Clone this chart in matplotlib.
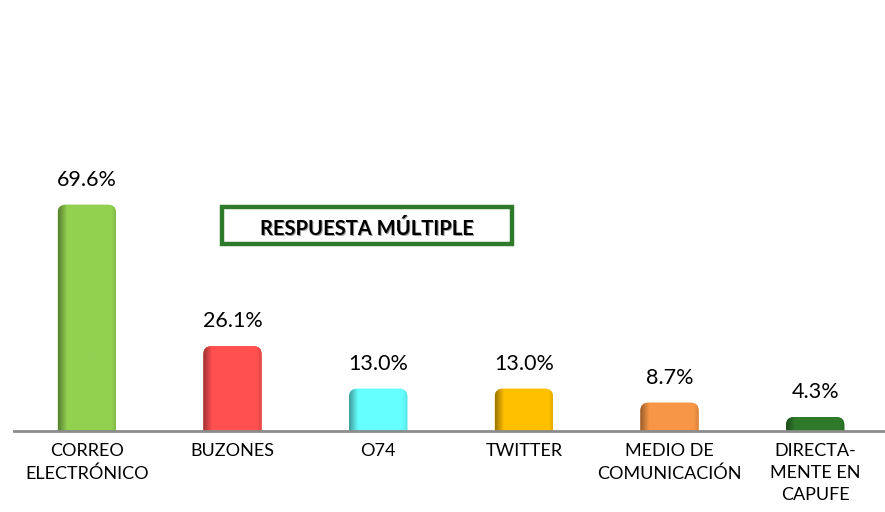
import numpy as np
import matplotlib
matplotlib.use("Agg")
import matplotlib.pyplot as plt
from matplotlib.patches import FancyBboxPatch
from matplotlib.colors import to_rgb

categories = ["CORREO\nELECTRÓNICO", "BUZONES", "O74", "TWITTER",
              "MEDIO DE\nCOMUNICACIÓN", "DIRECTA-\nMENTE EN\nCAPUFE"]
values = [69.6, 26.1, 13.0, 13.0, 8.7, 4.3]
colors = ["#92D050", "#FF5050", "#66FFFF", "#FFC000", "#F79646", "#2E7A2A"]
note = "RESPUESTA MÚLTIPLE"

plt.rcParams["font.family"] = ["Lato", "DejaVu Sans"]

W, H = 885, 512
fig = plt.figure(figsize=(W / 100, H / 100), dpi=100)
ax = fig.add_axes([14 / W, (H - 431) / H, 1 - 14 / W + 3 / W, 431 / H])
ax.set_xlim(-0.5, len(values) - 0.5)
ymax = 132.6
ax.set_ylim(0, ymax)
for s in ax.spines.values():
    s.set_visible(False)
ax.set_yticks([])
ax.set_xticks([])

x = np.arange(len(values))
bars = ax.bar(x, values, width=0.40, color="none", edgecolor="none")

# pixel scale of the data units, used for rounded corners
px_x = ax.get_position().width * W / (len(values))
px_y = ax.get_position().height * H / ymax
r_px = 8
rx = r_px / px_x
aspect = (r_px / px_y) / rx

for b, c in zip(bars, colors):
    x0, w, h = b.get_x(), b.get_width(), b.get_height()
    patch = FancyBboxPatch((x0, -6), w, h + 6,
                           boxstyle=f"round,pad=0,rounding_size={rx}",
                           mutation_aspect=aspect,
                           facecolor=c, edgecolor="none", zorder=2)
    ax.add_patch(patch)
    # horizontal shading for a rounded, lit look
    base = np.array(to_rgb(c))
    t = np.linspace(0, 1, 60)
    shade = np.where(t < 0.15, 0.62 + 0.38 * (t / 0.15), 1.0)
    shade = np.where(t > 0.92, 1.0 - 0.12 * (t - 0.92) / 0.08, shade)
    grad = np.clip(base[None, :] * shade[:, None], 0, 1)[None, :, :]
    im = ax.imshow(grad, extent=(x0, x0 + w, -6, h), aspect="auto",
                   zorder=3, interpolation="bilinear")
    im.set_clip_path(patch)
    ax.text(b.get_x() + w / 2, h + 25 / px_y, f"{h:.1f}%",
            ha="center", va="center", fontsize=15.5, color="#000000", zorder=4)

ax.set_xlim(-0.5, len(values) - 0.5)
ax.set_ylim(0, ymax)

# baseline
ax.axhline(0, color="#8C8C8C", lw=2.0, zorder=5, clip_on=False)

# category labels
for xi, lab in zip(x, categories):
    ax.text(xi, -12 / px_y, lab, ha="center", va="top", fontsize=13,
            linespacing=1.45, color="#000000", clip_on=False)

# note box
bx0, by0, bx1, by1 = 222, 207, 512, 244
fig.patches.append(FancyBboxPatch((bx0 / W, 1 - by1 / H), (bx1 - bx0) / W, (by1 - by0) / H,
                                  boxstyle="square,pad=0", transform=fig.transFigure,
                                  facecolor="white", edgecolor="#2E7A2A", lw=3.2))
fig.text((bx0 + bx1) / 2 / W + 1.2 / W, 1 - 229 / H - 1.2 / H, note, ha="center", va="center",
         fontsize=14.5, fontweight="bold", color="#9A9A9A")
fig.text((bx0 + bx1) / 2 / W, 1 - 229 / H, note, ha="center", va="center",
         fontsize=14.5, fontweight="bold", color="#000000")

fig.savefig("out.png", dpi=100)
